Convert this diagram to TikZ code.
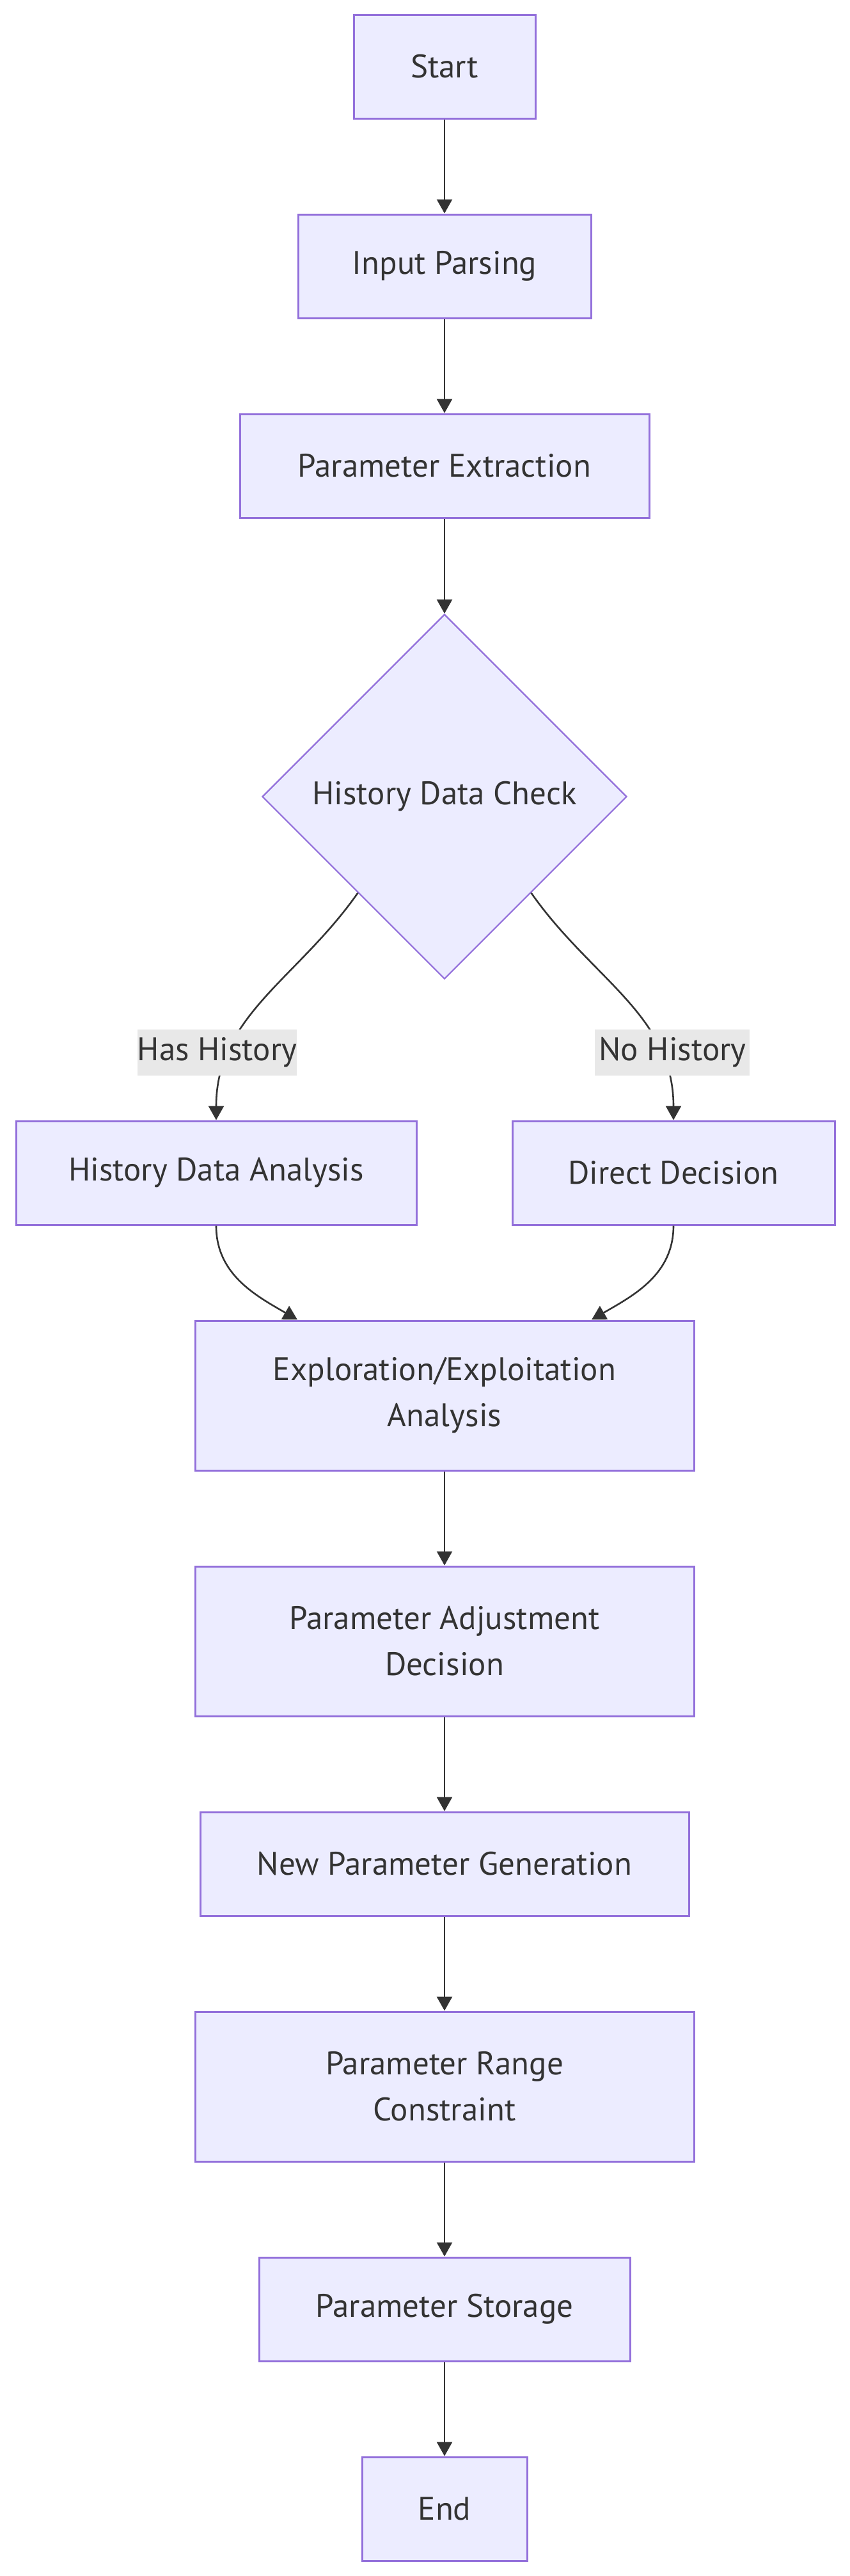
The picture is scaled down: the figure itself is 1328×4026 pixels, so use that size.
\documentclass[tikz,border=0pt]{standalone}
\usepackage{fontspec}
\setmainfont{PT Sans}
\usetikzlibrary{arrows.meta,shapes.geometric}
\definecolor{lila}{RGB}{147,112,219}
\definecolor{lilaf}{RGB}{236,236,255}
\definecolor{tinta}{RGB}{51,51,51}
\definecolor{grisl}{RGB}{232,232,232}
\tikzset{
  caja/.style={draw=lila, fill=lilaf, line width=1.5pt, align=center, inner sep=0pt, minimum height=81pt, text=tinta},
  rombo/.style={draw=lila, fill=lilaf, diamond, aspect=1, line width=1.1pt, inner sep=0pt, minimum width=285pt, minimum height=285pt, text=tinta},
  fl/.style={-{Triangle[length=11pt,width=12pt]}, line width=1.3pt, tinta},
  et/.style={fill=grisl, text=tinta, inner sep=0pt, minimum width=121pt, minimum height=36pt},
}
\begin{document}
\begin{tikzpicture}[x=0.5pt, y=-0.5pt, font=\fontsize{25.5}{36}\selectfont]
  \useasboundingbox (0,0) rectangle (1328,4026);
  \node[caja, minimum width=142pt] (ini) at (695,104) {Start};
  \node[caja, minimum width=229pt] (inp) at (695,416) {Input Parsing};
  \node[caja, minimum width=320pt] (ext) at (695,728) {Parameter Extraction};
  \node[rombo] (hist) at (695,1245) {History Data Check};
  \node[caja, minimum width=313pt] (hda) at (338,1833) {History Data Analysis};
  \node[caja, minimum width=252pt] (dd) at (1053,1833) {Direct Decision};
  \node[caja, minimum width=390pt, minimum height=117pt] (expl) at (695,2181) {Exploration/Exploitation\\Analysis};
  \node[caja, minimum width=390pt, minimum height=117pt] (ajus) at (695,2565) {Parameter Adjustment\\Decision};
  \node[caja, minimum width=382pt] (gen) at (695,2913) {New Parameter Generation};
  \node[caja, minimum width=390pt, minimum height=117pt] (rango) at (695,3261) {Parameter Range\\Constraint};
  \node[caja, minimum width=290pt] (alm) at (695,3609) {Parameter Storage};
  \node[caja, minimum width=129pt] (fin) at (695,3921) {End};
  \draw[fl] (ini)--(inp);
  \draw[fl] (inp)--(ext);
  \draw[fl] (ext)--(hist);
  \draw[fl] (hist.228) to[out=-125,in=90] node[et,pos=0.75,xshift=-10pt]{Has History} (hda.north);
  \draw[fl] (hist.312) to[out=-55,in=90] node[et,pos=0.75,xshift=10pt]{No History} (dd.north);
  \draw[fl] (hda.south) to[out=-90,in=150] ([xshift=-115pt]expl.north);
  \draw[fl] (dd.south) to[out=-90,in=30] ([xshift=115pt]expl.north);
  \draw[fl] (expl)--(ajus);
  \draw[fl] (ajus)--(gen);
  \draw[fl] (gen)--(rango);
  \draw[fl] (rango)--(alm);
  \draw[fl] (alm)--(fin);
\end{tikzpicture}
\end{document}
